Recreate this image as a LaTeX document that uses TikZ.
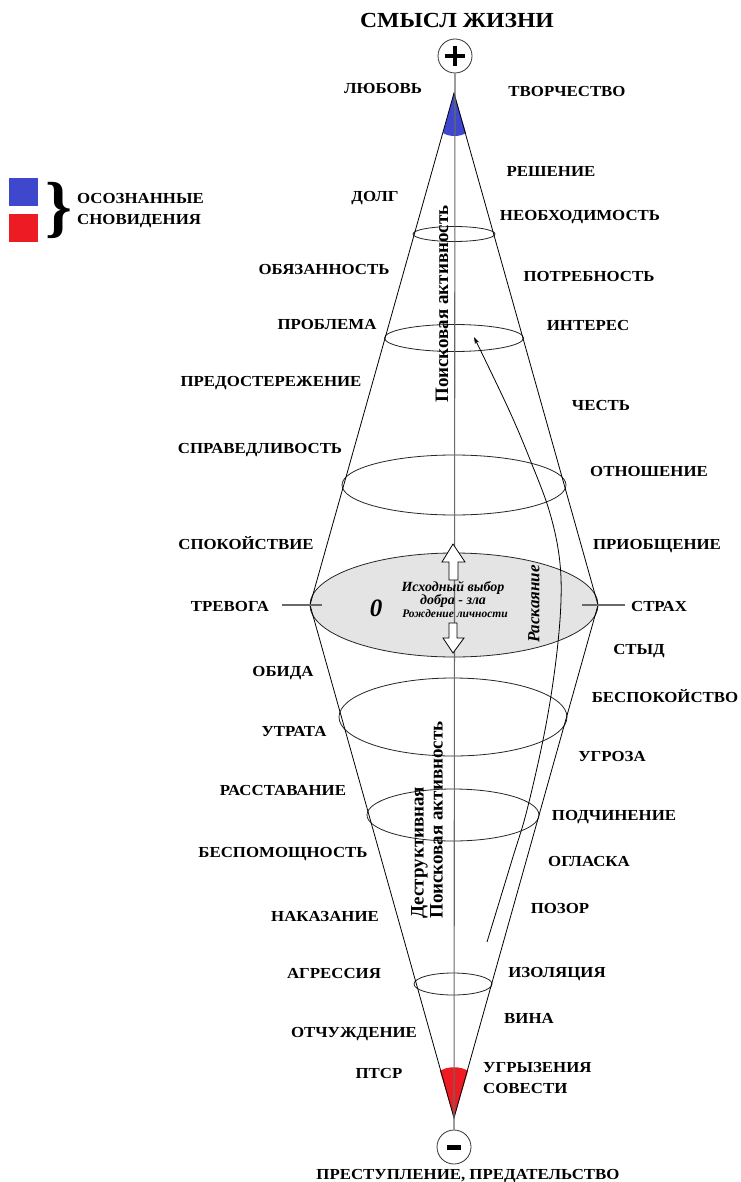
\documentclass[tikz,border=0pt]{standalone}
\usepackage{fontspec}
\setmainfont{Liberation Serif}
\newfontfamily\lblfont{Liberation Serif}[FakeStretch=1.1]
\usetikzlibrary{arrows.meta}
\definecolor{capblue}{RGB}{63,72,204}
\definecolor{capred}{RGB}{237,28,36}
\definecolor{axisgray}{RGB}{105,105,105}
\definecolor{discgray}{RGB}{228,228,228}
\begin{document}
\begin{tikzpicture}[x=1pt,y=-1pt,
  lbl/.style={font=\lblfont\bfseries\fontsize{15.3}{18}\selectfont,inner sep=0pt,text height=10.2pt,text depth=0pt},
  lbltwo/.style={font=\lblfont\bfseries\fontsize{15.3}{21}\selectfont,inner sep=0pt,align=left},
  conel/.style={draw=black,line width=0.8pt},
  ring/.style={draw=black!85,line width=0.8pt},
  axis/.style={draw=axisgray,line width=1.1pt},
  openarrow/.style={draw=black,fill=white,line width=0.8pt},
  vtext/.style={font=\bfseries\fontsize{19}{19}\selectfont,inner sep=0pt,rotate=90},
  ctext/.style={font=\bfseries\itshape\fontsize{14}{14}\selectfont,inner sep=0pt}
]
\useasboundingbox (0,0) rectangle (740,1182);
\fill[white] (0,0) rectangle (740,1182);

% key points
\coordinate (top) at (454,93);
\coordinate (bot) at (454,1118);
\coordinate (L) at (310,605);
\coordinate (R) at (598,605);

% caps
\fill[capblue] (top) -- (443,133) .. controls (449,137) and (460,137) .. (466,133) -- cycle;
\fill[capred] (440,1071) .. controls (447,1066) and (461,1066) .. (468,1071) -- (bot) -- cycle;

% central disc
\fill[discgray] (454,605) ellipse [x radius=144, y radius=52];
\draw[ring] (454,605) ellipse [x radius=144, y radius=52];

% rings
\draw[ring] (454,234) ellipse [x radius=41, y radius=7.5];
\draw[ring] (454,338) ellipse [x radius=69.5, y radius=13.5];
\draw[ring] (454,485) ellipse [x radius=112, y radius=30];
\draw[ring] (453,717) ellipse [x radius=114, y radius=39];
\draw[ring] (453,815) ellipse [x radius=86, y radius=26];
\draw[ring] (453,984) ellipse [x radius=39, y radius=11];

% cone
\draw[conel] (top) -- (L) -- (bot) -- (R) -- cycle;

% axis
\node[circle,draw=black!80,line width=0.8pt,minimum size=34pt,inner sep=0pt] (plus) at (455,56) {};
\node[circle,draw=black!80,line width=0.8pt,minimum size=34pt,inner sep=0pt] (minus) at (454,1147) {};
\draw[axis] (plus.south) -- (minus.north);
\draw[black,line width=4pt] (445,56) -- (465,56) (455,46) -- (455,66);
\draw[black,line width=5pt] (447,1147.5) -- (461,1147.5);

% ticks
\coordinate (tl1) at (282,605); \coordinate (tl2) at (322,605);
\coordinate (tr1) at (582,605); \coordinate (tr2) at (625,605);
\draw[axis] (tl1) -- (tl2);
\draw[axis] (tr1) -- (tr2);

% open arrows
\draw[openarrow] (453,544) -- (465,562) -- (458,562) -- (458,580) -- (449,580) -- (449,562) -- (442,562) -- cycle;
\draw[openarrow] (453,653) -- (464,638) -- (457,638) -- (457,623) -- (449,623) -- (449,638) -- (443,638) -- cycle;

% repentance arc
\draw[black,line width=0.8pt,-{Stealth[length=7pt,width=4.5pt]}] plot[smooth,tension=0.6] coordinates
  {(487,942) (512,860) (527,810) (545,730) (556,660) (561,600) (559,555) (549,510) (531,462) (509,410) (474,337)};

% center texts
\node[ctext] (c1) at (453,588) {Исходный выбор};
\node[ctext] (c2) at (453,601) {добра - зла};
\node[ctext,font=\bfseries\itshape\fontsize{11.5}{11.5}\selectfont] (c3) at (455,614) {Рождение личности};
\node[font=\bfseries\itshape\fontsize{25}{25}\selectfont,inner sep=0pt] (zero) at (376,608) {0};
\node[font=\bfseries\itshape\fontsize{17}{17}\selectfont,inner sep=0pt,rotate=90] (rep) at (534,604) {Раскаяние};

% vertical texts
\node[vtext] (up) at (442,304) {Поисковая активность};
\node[vtext,align=left,anchor=south] (down) at (443,820) {Деструктивная\\Поисковая активность};

% title and poles
\node[lbl,font=\lblfont\bfseries\fontsize{21.5}{21.5}\selectfont,text height=14.8pt] (title) at (457,20) {СМЫСЛ ЖИЗНИ};
\node[lbl] (crime) at (468,1174) {ПРЕСТУПЛЕНИЕ, ПРЕДАТЕЛЬСТВО};

% left labels
\node[lbl] at (383,88) {ЛЮБОВЬ};
\node[lbl] at (375,196) {ДОЛГ};
\node[lbl] at (324,269) {ОБЯЗАННОСТЬ};
\node[lbl] at (327,324) {ПРОБЛЕМА};
\node[lbl] at (271,381) {ПРЕДОСТЕРЕЖЕНИЕ};
\node[lbl] at (260,448) {СПРАВЕДЛИВОСТЬ};
\node[lbl] at (246,544) {СПОКОЙСТВИЕ};
\node[lbl] at (230,606) {ТРЕВОГА};
\node[lbl] at (283,671) {ОБИДА};
\node[lbl] at (294,731) {УТРАТА};
\node[lbl] at (283,790) {РАССТАВАНИЕ};
\node[lbl] at (283,852) {БЕСПОМОЩНОСТЬ};
\node[lbl] at (325,916) {НАКАЗАНИЕ};
\node[lbl] at (334,973) {АГРЕССИЯ};
\node[lbl] at (354,1032) {ОТЧУЖДЕНИЕ};
\node[lbl] at (379,1073) {ПТСР};

% right labels
\node[lbl] at (567,91) {ТВОРЧЕСТВО};
\node[lbl] at (551,171) {РЕШЕНИЕ};
\node[lbl] at (580,215) {НЕОБХОДИМОСТЬ};
\node[lbl] at (589,276) {ПОТРЕБНОСТЬ};
\node[lbl] at (588,325) {ИНТЕРЕС};
\node[lbl] at (601,405) {ЧЕСТЬ};
\node[lbl] at (649,471) {ОТНОШЕНИЕ};
\node[lbl] at (657,544) {ПРИОБЩЕНИЕ};
\node[lbl] at (659,606) {СТРАХ};
\node[lbl] at (639,649) {СТЫД};
\node[lbl] at (665,697) {БЕСПОКОЙСТВО};
\node[lbl] at (612,756) {УГРОЗА};
\node[lbl] at (614,815) {ПОДЧИНЕНИЕ};
\node[lbl] at (589,861) {ОГЛАСКА};
\node[lbl] at (560,908) {ПОЗОР};
\node[lbl] at (557,972) {ИЗОЛЯЦИЯ};
\node[lbl] at (529,1018) {ВИНА};
\node[lbltwo,anchor=west] at (483,1078) {УГРЫЗЕНИЯ\\СОВЕСТИ};

% legend
\fill[capblue] (9,178) rectangle (38,206);
\fill[capred] (9,214) rectangle (38,242);
\node[font=\bfseries\fontsize{68}{68}\selectfont,inner sep=0pt] (brace) at (59,210) {\}};
\node[lbltwo,anchor=west] (leg) at (77,211) {ОСОЗНАННЫЕ\\СНОВИДЕНИЯ};
\end{tikzpicture}
\end{document}
